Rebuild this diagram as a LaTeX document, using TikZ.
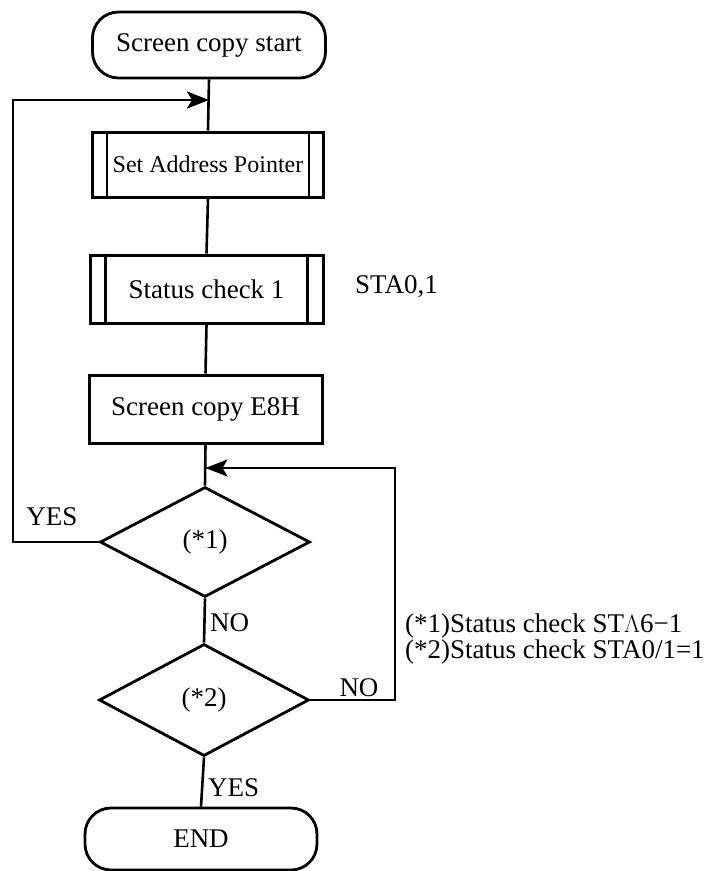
\documentclass[tikz,border=0pt]{standalone}
\usepackage{fontspec}
\setmainfont{Liberation Serif}
\usetikzlibrary{arrows.meta,shapes.geometric}
\begin{document}
\begin{tikzpicture}[x=1pt,y=-1pt,
  every node/.style={font=\fontsize{27}{30}\selectfont},
  term/.style={draw,line width=2.8pt,rounded corners=26pt,minimum width=233pt,minimum height=66pt,inner sep=0pt},
  proc/.style={draw,line width=3pt,minimum width=233pt,minimum height=67pt,inner sep=0pt},
  dec/.style={draw,line width=2.8pt,diamond,minimum width=210pt,minimum height=110pt,inner sep=0pt},
  conn/.style={line width=2.6pt},
  bar/.style={line width=2.8pt},
  arr/.style={line width=2.8pt,-{Stealth[length=22pt,width=17pt,inset=5pt]}},
  lbl/.style={inner sep=0pt}]
\useasboundingbox (0,0) rectangle (717,871);
\fill[white] (0,0) rectangle (717,871);

\node[term] (start) at (209,45) {Screen copy start};
\node[proc,minimum width=231pt,minimum height=65pt] (sap) at (208,164.5) {\fontsize{24}{28}\selectfont Set Address Pointer};
\node[proc,minimum height=68pt] (sc1) at (206.5,289) {Status check 1};
\node[proc,minimum height=68pt] (e8h) at (205.5,409) {Screen copy E8H};
\node[dec] (d1) at (205,542) {(*1)};
\node[dec,minimum height=112pt] (d2) at (204,700) {(*2)};
\node[term,minimum width=232pt,minimum height=62pt] (end) at (201,839) {END};

% sub-process bars
\draw[bar] ([xshift=16pt]sap.north west) -- ([xshift=16pt]sap.south west);
\draw[bar] ([xshift=-16pt]sap.north east) -- ([xshift=-16pt]sap.south east);
\draw[bar] ([xshift=17pt]sc1.north west) -- ([xshift=17pt]sc1.south west);
\draw[bar] ([xshift=-17pt]sc1.north east) -- ([xshift=-17pt]sc1.south east);

\node[lbl,anchor=west] (sta01) at (355,287) {STA0,1};

% main flow
\coordinate (jtop) at (209,100);
\coordinate (jmid) at (205.5,468);
\draw[conn] (start.south) -- (sap.north);
\draw[conn] (sap.south) -- (sc1.north);
\draw[conn] (sc1.south) -- (e8h.north);
\draw[conn] (e8h.south) -- (d1.north);
\draw[conn] (d1.south) -- (d2.north);
\draw[conn] (d2.south) -- (end.north);

% YES loop back to top
\coordinate (lx) at (13,100);
\draw[arr] (d1.west) -| (lx) -- (jtop);
% NO loop back before (*1)
\coordinate (rx) at (395,468);
\draw[arr] (d2.east) -| (rx) -- (jmid);

% labels
\node[lbl] (yes1) at (52,517) {YES};
\node[lbl,anchor=west] (no1) at (210,623) {NO};
\node[lbl] (no2) at (359,688) {NO};
\node[lbl,anchor=west] (yes2) at (208,788) {YES};

% notes
\node[lbl,anchor=west,align=left,font=\fontsize{27}{24}\selectfont] (notes) at (405,639)
  {(*1)Status check ST$\Lambda$6\textminus1\\(*2)Status check STA0/1=1};
\end{tikzpicture}
\end{document}
